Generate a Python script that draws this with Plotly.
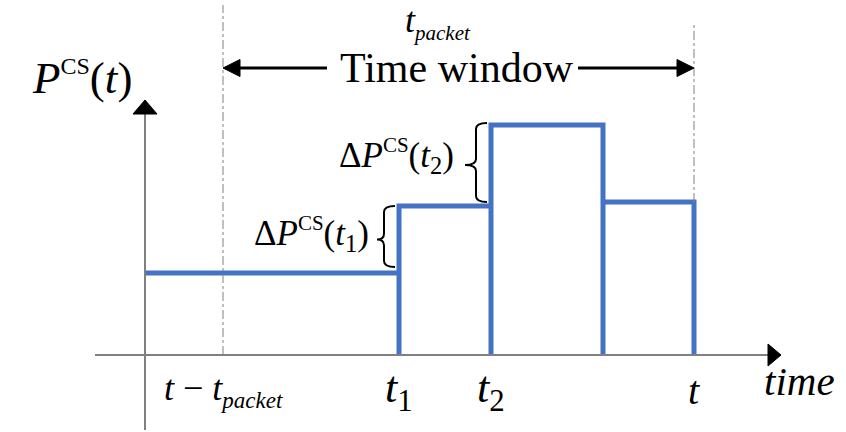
import plotly.graph_objects as go

# Time axis positions (arbitrary time units, origin at the power axis)
t_window_start = 7.8   # t - t_packet
t_events = [25.4, 34.6, 45.8]   # t1, t2, and the following drop
t_now = 54.9           # t
x_axis_min, x_axis_max = -5.0, 63.6

# Power levels (arbitrary units)
p_base = 8.2
p_levels = [14.9, 23.0, 15.3]   # levels after t1, t2, t3
y_axis_min, y_axis_max = -7.5, 25.5

# Tick labels on the time axis
tick_positions = [t_window_start, t_events[0], t_events[1], t_now]
tick_labels = [
    "<i>t</i> − <i>t</i><sub><span style='font-size:23px'><i>packet</i></span></sub>",
    "<i>t</i><sub>1</sub>",
    "<i>t</i><sub>2</sub>",
    "<i>t</i>",
]
tick_sizes = [36, 44, 44, 40]

BLUE = "#4472C4"
GRAY = "#808080"
FONT = "Liberation Serif, Times New Roman, DejaVu Serif, serif"

fig = go.Figure()

# Step profile of P^CS(t): base line, then rectangular segments down to the axis
edges = t_events + [t_now]
xs = [0, edges[0], edges[0]]
ys = [p_base, p_base, 0]
for i, lvl in enumerate(p_levels):
    xs += [edges[i], edges[i + 1], edges[i + 1]]
    ys += [lvl, lvl, 0]
fig.add_trace(go.Scatter(x=xs, y=ys, mode="lines",
                         line=dict(color=BLUE, width=5),
                         hoverinfo="skip", showlegend=False))

shapes = []

# Axes lines
shapes.append(dict(type="line", x0=x_axis_min, x1=x_axis_max - 1.3, y0=0, y1=0,
                   line=dict(color=GRAY, width=2)))
shapes.append(dict(type="line", x0=0, x1=0, y0=y_axis_min, y1=y_axis_max - 1.4,
                   line=dict(color=GRAY, width=2)))


def tri(tip, base_a, base_b):
    return dict(type="path",
                path=f"M {tip[0]},{tip[1]} L {base_a[0]},{base_a[1]} L {base_b[0]},{base_b[1]} Z",
                fillcolor="black", line=dict(color="black", width=1))


# Arrowheads on axes
shapes.append(tri((0, y_axis_max), (-1.2, y_axis_max - 1.4), (1.2, y_axis_max - 1.4)))
shapes.append(tri((x_axis_max, 0), (x_axis_max - 1.3, 1.1), (x_axis_max - 1.3, -1.1)))

# Dash-dot guides marking the time window
shapes.append(dict(type="line", x0=t_window_start, x1=t_window_start, y0=0, y1=35.0,
                   line=dict(color=GRAY, width=1, dash="dashdot")))
shapes.append(dict(type="line", x0=t_now, x1=t_now, y0=p_levels[-1], y1=33.0,
                   line=dict(color=GRAY, width=1, dash="dashdot")))

# Time window double arrow
y_win = 28.7
shapes.append(dict(type="line", x0=t_window_start + 1.6, x1=18.2, y0=y_win, y1=y_win,
                   line=dict(color="black", width=3)))
shapes.append(dict(type="line", x0=43.3, x1=t_now - 1.6, y0=y_win, y1=y_win,
                   line=dict(color="black", width=3)))
shapes.append(tri((t_window_start, y_win), (t_window_start + 1.7, y_win + 0.85),
                  (t_window_start + 1.7, y_win - 0.85)))
shapes.append(tri((t_now, y_win), (t_now - 1.7, y_win + 0.85), (t_now - 1.7, y_win - 0.85)))


def brace(x_right, x_mid, x_tip, y_top, y_bot, y_tip, d=0.6):
    p = (f"M {x_right},{y_top} Q {x_mid},{y_top} {x_mid},{y_top - d} "
         f"L {x_mid},{y_tip + d} Q {x_mid},{y_tip} {x_tip},{y_tip} "
         f"Q {x_mid},{y_tip} {x_mid},{y_tip - d} "
         f"L {x_mid},{y_bot + d} Q {x_mid},{y_bot} {x_right},{y_bot}")
    return dict(type="path", path=p, line=dict(color="black", width=2))


# Braces spanning each power increase
shapes.append(brace(t_events[0] - 0.4, t_events[0] - 1.5, t_events[0] - 2.2,
                    p_levels[0], p_base + 0.6, (p_levels[0] + p_base) / 2))
shapes.append(brace(t_events[1] - 0.4, t_events[1] - 1.5, t_events[1] - 2.6,
                    p_levels[1] + 0.2, p_levels[0] + 0.4, 19.0))

annotations = []


def label(x, y, text, size, xanchor="center", yanchor="middle"):
    annotations.append(dict(x=x, y=y, xref="x", yref="y", text=text, showarrow=False,
                            xanchor=xanchor, yanchor=yanchor,
                            font=dict(family=FONT, size=size, color="black")))


for x, txt, sz in zip(tick_positions, tick_labels, tick_sizes):
    label(x, -3.5, txt, sz)

label(65.4, -2.6, "<i>time</i>", 41)
label(-6.3, 27.7,
      "<i>P</i><sup><span style='font-size:24px'>CS</span></sup>(<i>t</i>)", 45)
label(31.2, y_win, "Time window", 42)
label(29.3, 33.25,
      "<i>t</i><sub><span style='font-size:21px'><i>packet</i></span></sub>", 36)
label(16.6, 12.1,
      "Δ<i>P</i><sup><span style='font-size:21px'>CS</span></sup>(<i>t</i><sub>1</sub>)", 35)
label(25.1, 19.9,
      "Δ<i>P</i><sup><span style='font-size:21px'>CS</span></sup>(<i>t</i><sub>2</sub>)", 35)

fig.update_layout(
    width=846, height=432,
    margin=dict(l=0, r=0, t=0, b=0),
    paper_bgcolor="white", plot_bgcolor="white",
    font=dict(family=FONT),
    xaxis=dict(range=[-14.5, 70.1], visible=False, fixedrange=True),
    yaxis=dict(range=[-7.7, 35.5], visible=False, fixedrange=True),
    shapes=shapes, annotations=annotations,
    showlegend=False,
)

fig.write_html("out.html")
